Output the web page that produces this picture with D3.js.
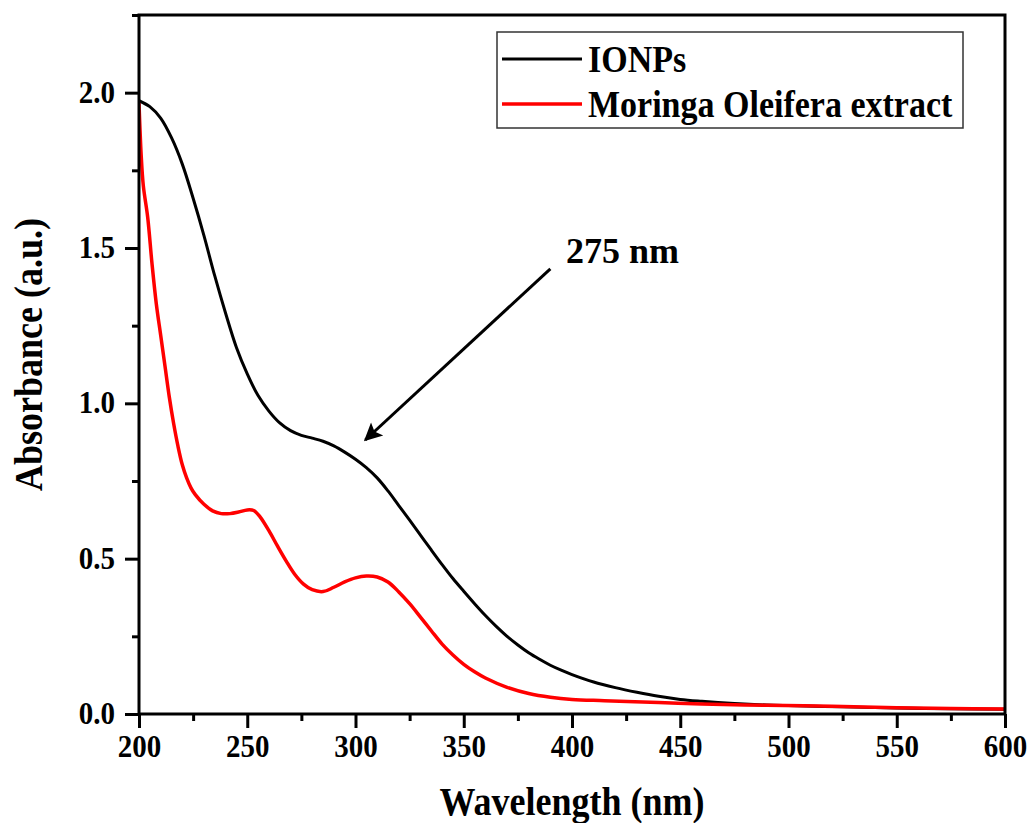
<!DOCTYPE html>
<html>
<head>
<meta charset="utf-8">
<script src="https://cdn.jsdelivr.net/npm/d3@7"></script>
<style>
  body { margin: 0; background: #fff; }
  svg text { font-family: "Liberation Serif", "Times New Roman", serif; font-weight: bold; fill: #000; }
</style>
</head>
<body>
<svg id="chart" width="1030" height="823"></svg>
<script>
// IONPs spectrum
const ionpsWl = [200, 205, 210, 215, 220, 225, 230, 235, 240, 245, 250, 255, 260, 265, 270, 275, 280, 285, 290, 295,
  300, 305, 310, 315, 320, 325, 330, 335, 340, 345, 350, 355, 360, 365, 370, 375, 380, 385, 390, 395,
  400, 410, 420, 430, 440, 450, 460, 475, 490, 500, 525, 550, 575, 600];
const ionpsAbs = [1.974, 1.955, 1.918, 1.855, 1.770, 1.660, 1.540, 1.410, 1.290, 1.180, 1.095, 1.025, 0.975, 0.937, 0.912, 0.897, 0.888, 0.878, 0.863, 0.843,
  0.820, 0.793, 0.760, 0.718, 0.671, 0.624, 0.576, 0.528, 0.481, 0.436, 0.395, 0.355, 0.317, 0.282, 0.250, 0.222, 0.197, 0.176, 0.157, 0.141,
  0.127, 0.103, 0.085, 0.070, 0.057, 0.047, 0.041, 0.034, 0.029, 0.027, 0.023, 0.019, 0.017, 0.015];

// Moringa Oleifera extract spectrum
const moringaWl = [200, 201, 202, 204, 206, 208, 210, 212, 214, 216, 218, 220, 222, 224, 226, 230, 234, 238, 242, 246, 250,
  253, 256, 260, 264, 268, 272, 276, 280, 285, 290, 295, 300, 305, 310, 315, 320, 325, 330, 335, 340,
  345, 350, 355, 360, 370, 380, 390, 400, 415, 440, 460, 490, 520, 550, 575, 600];
const moringaAbs = [1.967, 1.80, 1.70, 1.60, 1.45, 1.32, 1.22, 1.12, 1.02, 0.935, 0.862, 0.802, 0.760, 0.728, 0.706, 0.675, 0.654, 0.645, 0.645, 0.650, 0.657,
  0.655, 0.634, 0.590, 0.540, 0.492, 0.449, 0.418, 0.400, 0.394, 0.408, 0.425, 0.438, 0.444, 0.441, 0.425, 0.393, 0.355, 0.312, 0.268, 0.225,
  0.190, 0.160, 0.136, 0.116, 0.086, 0.066, 0.054, 0.047, 0.043, 0.037, 0.032, 0.028, 0.025, 0.020, 0.018, 0.016];

const seriesNames = ["IONPs", "Moringa Oleifera extract"];
const seriesColors = ["#000000", "#ff0000"];

const xMajor = [200, 250, 300, 350, 400, 450, 500, 550, 600];
const xMinor = [225, 275, 325, 375, 425, 475, 525, 575];
const yMajor = [0, 0.5, 1.0, 1.5, 2.0];
const yMinor = [0.25, 0.75, 1.25, 1.75, 2.25];

// annotation (data space)
const peakLabel = "275 nm";
const arrowFrom = [390, 1.433];
const arrowTo = [304.5, 0.882];

const margin = { top: 15, right: 25, bottom: 109, left: 139 };
const W = 1030, H = 823;
const w = W - margin.left - margin.right;
const h = H - margin.top - margin.bottom;
const tall = 1.1; // glyphs in the original are a bit taller than wide

const svg = d3.select("#chart");
const g = svg.append("g").attr("transform", `translate(${margin.left},${margin.top})`);

const x = d3.scaleLinear().domain([200, 600]).range([0, w]);
const y = d3.scaleLinear().domain([0, 2.25]).range([h, 0]);

// clip so lines stay inside frame
svg.append("defs").append("clipPath").attr("id", "clip")
  .append("rect").attr("width", w).attr("height", h);

const line = d3.line()
  .x(d => x(d[0]))
  .y(d => y(d[1]))
  .curve(d3.curveCatmullRom.alpha(0.5));

const series = [
  d3.zip(ionpsWl, ionpsAbs),
  d3.zip(moringaWl, moringaAbs)
];

g.append("g").attr("clip-path", "url(#clip)")
  .selectAll("path")
  .data(series)
  .join("path")
  .attr("d", line)
  .attr("fill", "none")
  .attr("stroke", (d, i) => seriesColors[i])
  .attr("stroke-width", (d, i) => i === 0 ? 3 : 3.5)
  .attr("stroke-linejoin", "round");

// axes
const xAxis = g.append("g").attr("transform", `translate(0,${h})`)
  .call(d3.axisBottom(x).tickValues(xMajor).tickSize(14).tickSizeOuter(0).tickFormat(d3.format("d")));
const xAxisMinor = g.append("g").attr("transform", `translate(0,${h})`)
  .call(d3.axisBottom(x).tickValues(xMinor).tickSize(7).tickSizeOuter(0).tickFormat(""));
const yAxis = g.append("g")
  .call(d3.axisLeft(y).tickValues(yMajor).tickSize(14).tickSizeOuter(0).tickFormat(d3.format(".1f")));
const yAxisMinor = g.append("g")
  .call(d3.axisLeft(y).tickValues(yMinor).tickSize(7).tickSizeOuter(0).tickFormat(""));

[xAxis, xAxisMinor, yAxis, yAxisMinor].forEach(a => {
  a.select(".domain").remove();
  a.selectAll("line").attr("stroke", "#000").attr("stroke-width", 3);
});

xAxis.selectAll("text")
  .attr("y", 43 / tall).attr("dy", 0)
  .attr("transform", `scale(1,${tall})`)
  .style("font-size", "29px");
yAxis.selectAll("text")
  .attr("x", -24).attr("dy", "0.3em")
  .attr("transform", `scale(1,${tall})`)
  .style("font-size", "29px");

// frame
g.append("rect")
  .attr("width", w).attr("height", h)
  .attr("fill", "none")
  .attr("stroke", "#000")
  .attr("stroke-width", 3);

// axis titles
g.append("text")
  .attr("transform", `translate(${w / 2},${h + 101}) scale(1,${tall})`)
  .attr("text-anchor", "middle")
  .style("font-size", "36px")
  .text("Wavelength (nm)");

g.append("text")
  .attr("transform", `translate(${-97},${h / 2 - 10}) rotate(-90) scale(1,${tall})`)
  .attr("text-anchor", "middle")
  .style("font-size", "36px")
  .text("Absorbance (a.u.)");

// legend
const legend = svg.append("g").attr("transform", "translate(497,32)");
legend.append("rect")
  .attr("width", 466).attr("height", 96)
  .attr("fill", "#fff")
  .attr("stroke", "#333")
  .attr("stroke-width", 1.5);
const item = legend.selectAll("g.item")
  .data(seriesNames)
  .join("g")
  .attr("class", "item")
  .attr("transform", (d, i) => `translate(0,${27 + i * 45})`);
item.append("line")
  .attr("x1", 5).attr("x2", 85)
  .attr("stroke", (d, i) => seriesColors[i])
  .attr("stroke-width", (d, i) => i === 0 ? 3 : 3.5);
item.append("text")
  .attr("transform", `translate(91,13) scale(1,${tall})`)
  .style("font-size", "34px")
  .text(d => d);

// peak annotation
svg.append("defs").append("marker")
  .attr("id", "arrowhead")
  .attr("viewBox", "0 0 10 10")
  .attr("refX", 9).attr("refY", 5)
  .attr("markerWidth", 8).attr("markerHeight", 6)
  .attr("markerUnits", "strokeWidth")
  .attr("orient", "auto")
  .append("path")
  .attr("d", "M0,0 L10,5 L0,10 L2,5 Z")
  .attr("fill", "#000");

g.append("line")
  .attr("x1", x(arrowFrom[0])).attr("y1", y(arrowFrom[1]))
  .attr("x2", x(arrowTo[0])).attr("y2", y(arrowTo[1]))
  .attr("stroke", "#000")
  .attr("stroke-width", 3)
  .attr("marker-end", "url(#arrowhead)");

g.append("text")
  .attr("x", x(397.2)).attr("y", y(1.4525))
  .style("font-size", "36px")
  .text(peakLabel);
</script>
</body>
</html>
